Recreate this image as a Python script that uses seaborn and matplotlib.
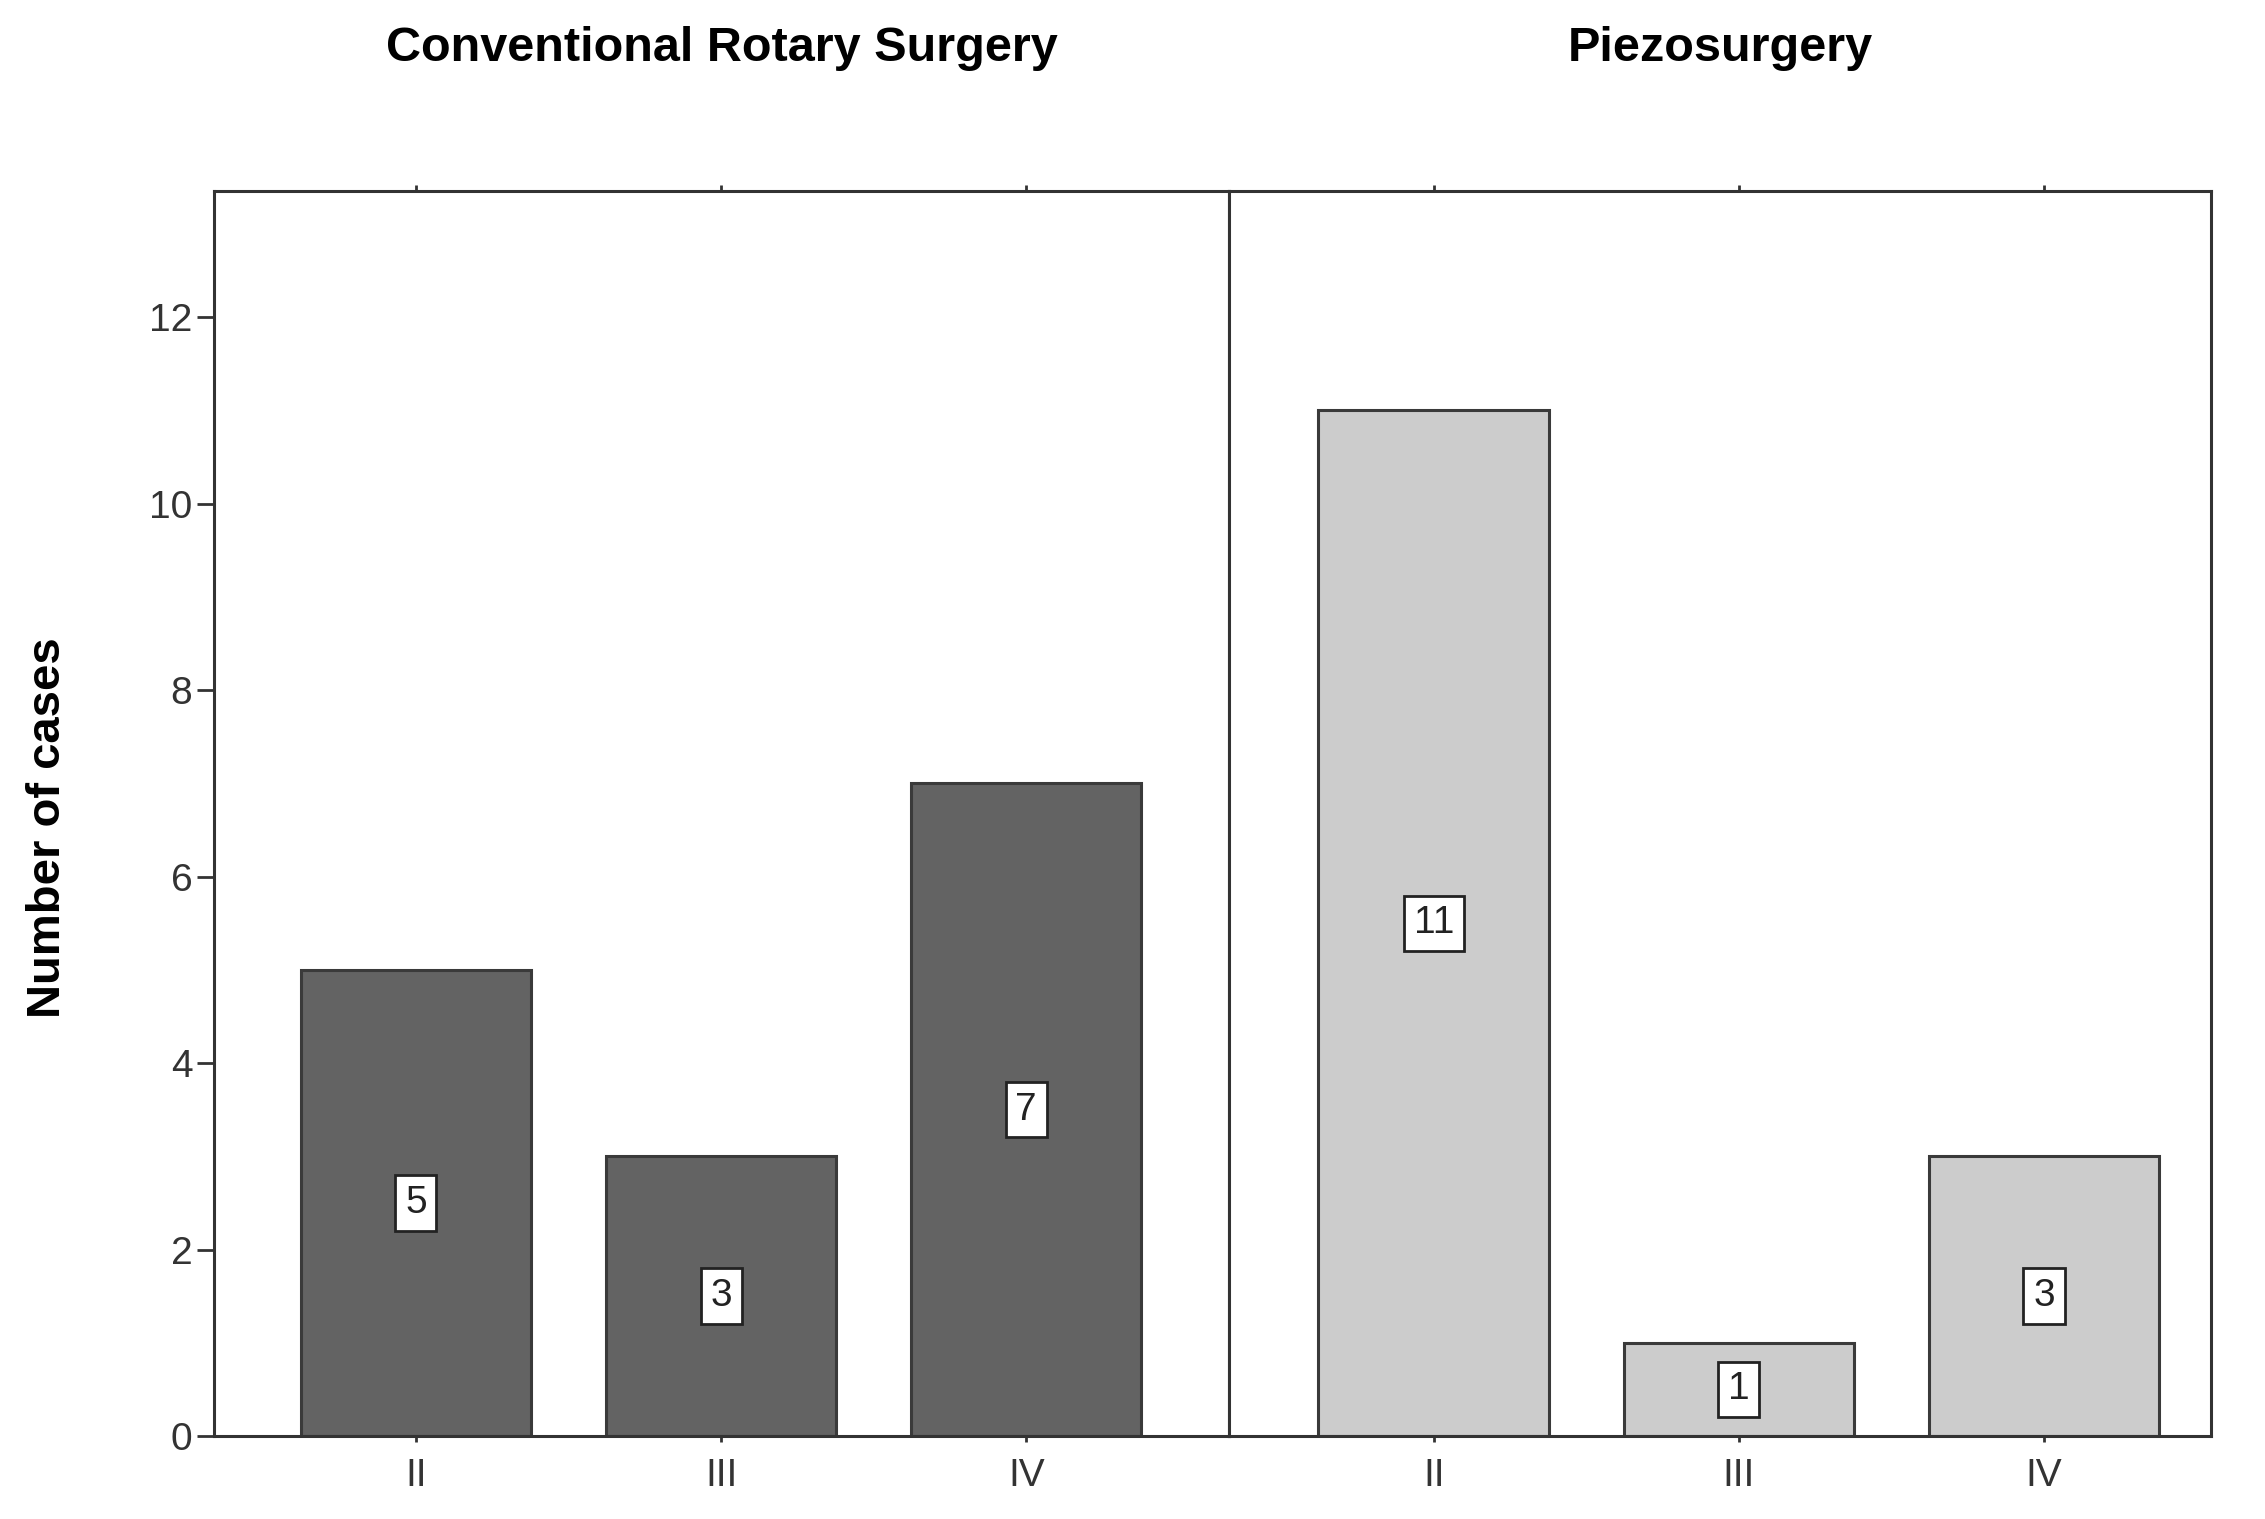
import pandas as pd
import matplotlib.pyplot as plt
import numpy as np
import seaborn as sns

grados = ['II', 'III', 'IV']
casos_convencional = [5, 3, 7]
casos_piezo = [11, 1, 3]
paneles = ['Conventional Rotary Surgery', 'Piezosurgery']
colores = ['#636363', '#cccccc']

sns.set_style('white')
plt.rcParams['font.family'] = ['Liberation Sans', 'DejaVu Sans']

fig = plt.figure(figsize=(22.65, 15.19), dpi=100)
# ancho de cada panel en pixeles, medido en la imagen
gs = fig.add_gridspec(1, 2, width_ratios=[700, 677], wspace=0,
                      left=0.0947, right=0.976, bottom=0.0546, top=0.874)
ax1 = fig.add_subplot(gs[0])
ax2 = fig.add_subplot(gs[1], sharey=ax1)

datos = [casos_convencional, casos_piezo]
limites_x = [(-0.66, 2.665), (-0.67, 2.546)]

for i, ax in enumerate([ax1, ax2]):
    df = pd.DataFrame({'grado': grados, 'casos': datos[i]})
    sns.barplot(data=df, x='grado', y='casos', ax=ax, color=colores[i],
                edgecolor='#3a3a3a', linewidth=2.2, width=0.755, saturation=1)
    for barra, v in zip(ax.patches, datos[i]):
        cx = barra.get_x() + barra.get_width() / 2
        ax.text(cx, v / 2, str(v), ha='center', va='center', fontsize=28,
                color='#222222',
                bbox=dict(boxstyle='square,pad=0.25', facecolor='white',
                          edgecolor='#222222', linewidth=2))
    ax.set_xlim(*limites_x[i])
    ax.set_ylim(0, 13.35)
    ax.set_xlabel('')
    ax.set_ylabel('')
    ax.set_title(paneles[i], fontsize=35, fontweight='bold', pad=94, color='black')
    for s in ax.spines.values():
        s.set_visible(True)
        s.set_color('#333333')
        s.set_linewidth(2.2)
    ax.tick_params(axis='x', which='both', bottom=True, direction='out',
                   length=12, width=2, color='#333333', labelsize=28,
                   labelcolor='#333333', pad=12)
    ax.tick_params(axis='x', top=True, length=4)  # marcas chiquitas arriba

ax1.set_yticks([0, 2, 4, 6, 8, 10, 12])
ax1.tick_params(axis='y', left=True, direction='out', length=12, width=2,
                color='#333333', labelsize=28, labelcolor='#333333', pad=4)
ax2.tick_params(axis='y', left=False, labelleft=False)

fig.text(0.021, 0.455, 'Number of cases', rotation=90, ha='center', va='center',
         fontsize=34, fontweight='bold', color='black')

fig.savefig('out.png', dpi=100, facecolor='white')
